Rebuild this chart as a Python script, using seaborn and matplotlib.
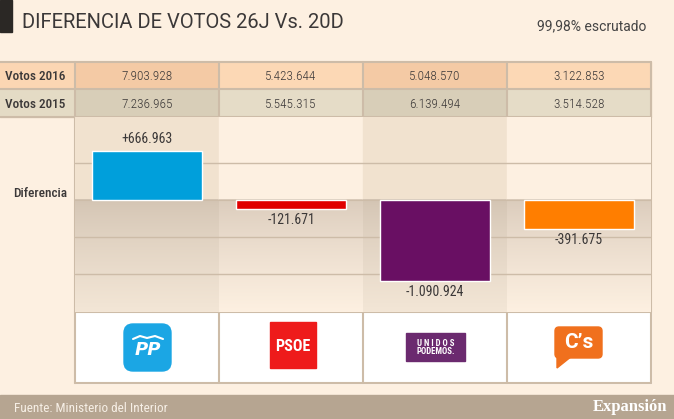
import numpy as np
import seaborn as sns
import matplotlib
matplotlib.use("Agg")
from matplotlib import pyplot as plt
from matplotlib.patches import Rectangle, FancyBboxPatch, Polygon

# datos del 26J frente al 20D
partidos    = ["PP", "PSOE", "Unidos Podemos", "C's"]
votos_2016  = [7903928, 5423644, 5048570, 3122853]
votos_2015  = [7236965, 5545315, 6139494, 3514528]
diferencia  = [a - b for a, b in zip(votos_2016, votos_2015)]
colores     = ["#009fdb", "#e00000", "#690f63", "#ff7e00"]
filas       = ["Votos 2016", "Votos 2015"]

titulo    = "DIFERENCIA DE VOTOS 26J Vs. 20D"
subtitulo = "99,98% escrutado"
fuente    = "Fuente: Ministerio del Interior"

def fmt(v, signo=False):
    v = int(round(v))
    s = f"{abs(v):,}".replace(",", ".")
    if v < 0:
        return "-" + s
    return ("+" + s) if signo else s

sns.set_theme(style="white")
COND = ["Roboto Condensed", "DejaVu Sans"]
plt.rcParams["font.family"] = COND

W, H = 674, 419
BG = "#fdf0e1"
LINEA = "#cdbca8"
TXT = "#3b3838"

fig = plt.figure(figsize=(W / 100, H / 100), dpi=100, facecolor=BG)

# fondo en coordenadas de pixel
bg = fig.add_axes([0, 0, 1, 1])
bg.set_xlim(0, W)
bg.set_ylim(H, 0)
bg.axis("off")

# cabecera
bg.add_patch(Rectangle((0, 0), 12, 32, color="#2b2825"))
bg.text(22, 22, titulo, fontsize=14.5, color=TXT, va="center", ha="left",
        family=["Roboto", "DejaVu Sans"])
bg.text(646, 26, subtitulo, fontsize=10, color="#444", va="center", ha="right",
        family=["Roboto", "DejaVu Sans"])

x0, cw = 75, 144
cols_x = [x0 + cw * i for i in range(5)]
filas_y = [(62, 89), (89, 117)]
fill_filas = [("#fbd6b3", "#f4caa5", "#fcd8b5"), ("#e4dbc5", "#d8ceb8", "#e5dcc7")]

for (y1, y2), nombre, valores, (c_lab, c_osc, c_cla) in zip(filas_y, filas,
                                                          [votos_2016, votos_2015], fill_filas):
    bg.add_patch(Rectangle((0, y1), x0, y2 - y1, color=c_lab, zorder=1))
    for i, v in enumerate(valores):
        c = c_osc if i % 2 == 0 else c_cla
        bg.add_patch(Rectangle((cols_x[i], y1), cw, y2 - y1, color=c, zorder=1))
        bg.text(cols_x[i] + cw / 2, (y1 + y2) / 2 + 1, fmt(v), fontsize=9.5, color=TXT,
                ha="center", va="center", fontweight="light", zorder=3)
    bg.text(5, (y1 + y2) / 2 + 1, nombre, fontsize=9.5, color=TXT, ha="left",
            va="center", fontweight="medium", zorder=3)
    bg.plot([0, cols_x[-1]], [y2, y2], color=LINEA, lw=1.5, zorder=2)
bg.plot([0, cols_x[-1]], [62, 62], color=LINEA, lw=1.5, zorder=2)
bg.plot([x0, x0], [62, 383], color=LINEA, lw=1.5, zorder=4)
for xc in cols_x[1:]:
    bg.plot([xc, xc], [62, 383], color=LINEA, lw=1.5, zorder=4)

bg.text(13, 193, "Diferencia", fontsize=9.5, color=TXT, ha="left", va="center",
        fontweight="medium")

# fila de logos
bg.add_patch(Rectangle((x0, 312), cols_x[-1] - x0, 71, color="white", zorder=1))
bg.plot([x0, cols_x[-1]], [312, 312], color=LINEA, lw=1.5, zorder=2)
bg.plot([x0, cols_x[-1]], [383, 383], color=LINEA, lw=1.5, zorder=2)

bg.add_patch(FancyBboxPatch((124, 324), 47, 47, boxstyle="round,pad=0,rounding_size=9",
                            color="#1ba6e4", zorder=3))
bg.text(147.5, 350, "PP", fontsize=13, color="white", ha="center", va="center",
        fontweight="bold", style="italic", family=["DejaVu Sans"], zorder=4)
bg.plot([133, 140, 147, 155, 163], [339, 336, 338, 336, 339], color="white", lw=1.5, zorder=4)

bg.add_patch(Rectangle((270, 322), 46, 46, color="#ee1b1b", zorder=3))
bg.text(293, 346, "PSOE", fontsize=11.5, color="white", ha="center", va="center",
        fontweight="bold", zorder=4)

bg.add_patch(Rectangle((406, 333), 59, 28, color="#6b2a6f", zorder=3))
bg.text(435.5, 347.5, "U N I D O S\nPODEMOS.", fontsize=6.3, color="white", ha="center",
        va="center", fontweight="bold", linespacing=0.95, zorder=4)

bg.add_patch(FancyBboxPatch((555, 327), 47, 31, boxstyle="round,pad=0,rounding_size=4",
                            color="#f0701d", zorder=3))
bg.add_patch(Polygon([(557, 356), (572, 356), (557, 368)], closed=True, color="#f0701d",
                     zorder=3))
bg.text(578.5, 342, "C’s", fontsize=15, color="white", ha="center", va="center",
        fontweight="bold", family=["Roboto", "DejaVu Sans"], zorder=4)

# pie
bg.add_patch(Rectangle((0, 395), W, 24, color="#b6a591", zorder=1))
bg.text(14, 408, fuente, fontsize=9.5, color="#f6efe6", ha="left", va="center", zorder=2)
bg.text(667, 407, "Expansión", fontsize=12, color="white", ha="right", va="center",
        fontweight="bold", family=["Liberation Serif", "DejaVu Serif"], zorder=2)

# grafico de barras de la diferencia
y_top, y_zero, y_bot = 117, 200, 312
paso = 37 / 500000
ymax = (y_zero - y_top) / paso
ymin = -(y_bot - y_zero) / paso

ax = fig.add_axes([x0 / W, (H - y_bot) / H, (cols_x[-1] - x0) / W, (y_bot - y_top) / H])
ax.patch.set_alpha(0)

grad = np.linspace(0, 1, 100).reshape(-1, 1)
for i in range(4):
    arriba = "#f1e2cf" if i % 2 == 0 else "#fdf0e1"
    ax.add_patch(Rectangle((i - 0.5, 0), 1, ymax, color=arriba, zorder=0))
    c1 = np.array(matplotlib.colors.to_rgb("#d3c4b3" if i % 2 == 0 else "#dacbbb"))
    c2 = np.array(matplotlib.colors.to_rgb("#f3e6d6" if i % 2 == 0 else "#fdf0e1"))
    img = c1 + (c2 - c1) * grad[:, :, None] ** 0.8
    ax.imshow(img, extent=(i - 0.5, i + 0.5, ymin, 0), aspect="auto", origin="upper",
              zorder=0)

sns.barplot(x=partidos, y=diferencia, hue=partidos, palette=colores, legend=False,
            saturation=1, width=0.76, ax=ax, zorder=3)

for cont in ax.containers:
    ax.bar_label(cont, labels=[fmt(v, signo=True) for v in cont.datavalues],
                 padding=3, fontsize=10, color=TXT)

for yv in [500000, -500000, -1000000]:
    ax.axhline(yv, color=LINEA, lw=1, zorder=1)
ax.axhline(0, color=LINEA, lw=0.8, zorder=1)

ax.set_xlim(-0.5, 3.5)
ax.set_ylim(ymin, ymax)
ax.set_xticks([])
ax.set_yticks([])
ax.set_xlabel("")
ax.set_ylabel("")
sns.despine(ax=ax, left=True, bottom=True)

fig.savefig("out.png", dpi=100, facecolor=BG)
